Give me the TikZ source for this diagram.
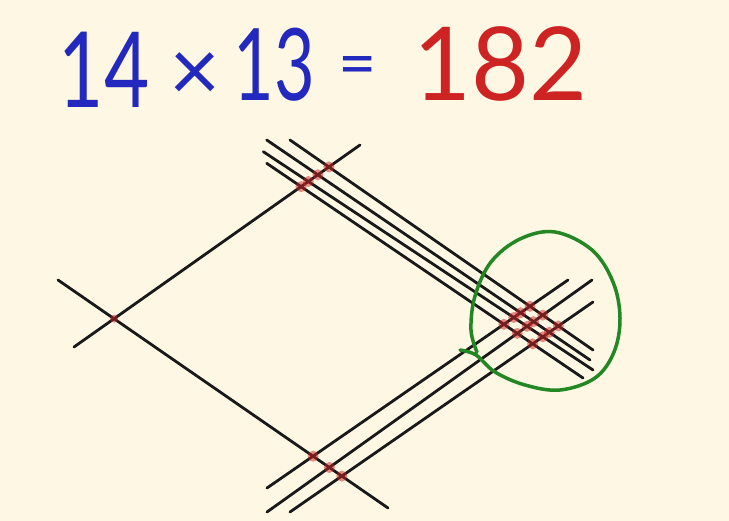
\documentclass[tikz,border=0pt]{standalone}
\usepackage{fontspec}
\setmainfont{Lato}
\usetikzlibrary{intersections}
\definecolor{cream}{HTML}{FDF7E3}
\definecolor{penblue}{RGB}{35,40,190}
\definecolor{penred}{RGB}{205,35,35}
\definecolor{pengreen}{RGB}{35,135,35}
\definecolor{ink}{RGB}{25,25,25}
\tikzset{
  stick/.style={draw=ink, line width=2.8pt, line cap=round},
  redmark/.style={fill=penred, opacity=0.5},
  bigdigit/.style={inner sep=0pt, anchor=center, font=\fontsize{100}{100}\selectfont},
}
\begin{document}
\begin{tikzpicture}[x=1pt,y=-1pt]
\fill[cream] (0,0) rectangle (729,521);
\useasboundingbox (0,0) rectangle (729,521);
% text
\node[bigdigit, text=penblue] (n14) at (104,70) {\scalebox{0.78}[1.05]{14}};
\node[inner sep=0pt, text=penblue, font=\fontsize{88}{88}\selectfont] (ntimes) at (195,77) {×};
\node[bigdigit, text=penblue] (n13) at (274,65) {\scalebox{0.7}[1.0]{13}};
\node[inner sep=0pt, text=penblue, font=\fontsize{66}{66}\selectfont] (neq) at (358,72) {=};
\node[bigdigit, text=penred] (n182) at (500,64) {\scalebox{1.0}[1.02]{182}};
% line end points (pixel coordinates)
% single down-right line (tens of 14)
\coordinate (sS) at (58,280);   \coordinate (eS) at (388,508);
% single up-right line (tens of 13)
\coordinate (sT) at (74,347);   \coordinate (eT) at (360,145);
% four down-right lines (units of 14)
\coordinate (sD) at (290,140);  \coordinate (eD) at (593,350);
\coordinate (sA) at (266.7,140);\coordinate (eA) at (590,360);
\coordinate (sB) at (263.3,151.7);\coordinate (eB) at (593,370);
\coordinate (sC) at (266.7,163.3);\coordinate (eC) at (583,378);
% three up-right lines (units of 13)
\coordinate (sP) at (267,488);  \coordinate (eP) at (568,280);
\coordinate (sQ) at (267,512);  \coordinate (eQ) at (592,280);
\coordinate (sR) at (290,512);  \coordinate (eR) at (593,302);
\foreach \l in {S,T,D,A,B,C,P,Q,R}
  \draw[stick, name path global=\l line] (s\l) -- (e\l);
% red crossing marks
\fill[redmark, name intersections={of=Sline and Tline, name=x}] (x-1) circle (4);
\foreach \a/\b in {D/T,A/T,B/T,C/T,S/P,S/Q,S/R,
                   D/P,D/Q,D/R,A/P,A/Q,A/R,B/P,B/Q,B/R,C/P,C/Q,C/R}
  \fill[redmark, name intersections={of=\a line and \b line, name=x}] (x-1) circle (5.5);
% green loop
\draw[pengreen, line width=3.5pt, line cap=round, line join=round]
  plot[smooth, tension=0.6] coordinates {(460,350) (476,355) (495,372) (525,385) (560,390)
   (595,378) (614,352) (620,318) (613,282) (592,250) (555,232) (520,239) (491,262)
   (475,296) (471,330) (477,352)};
\end{tikzpicture}
\end{document}
